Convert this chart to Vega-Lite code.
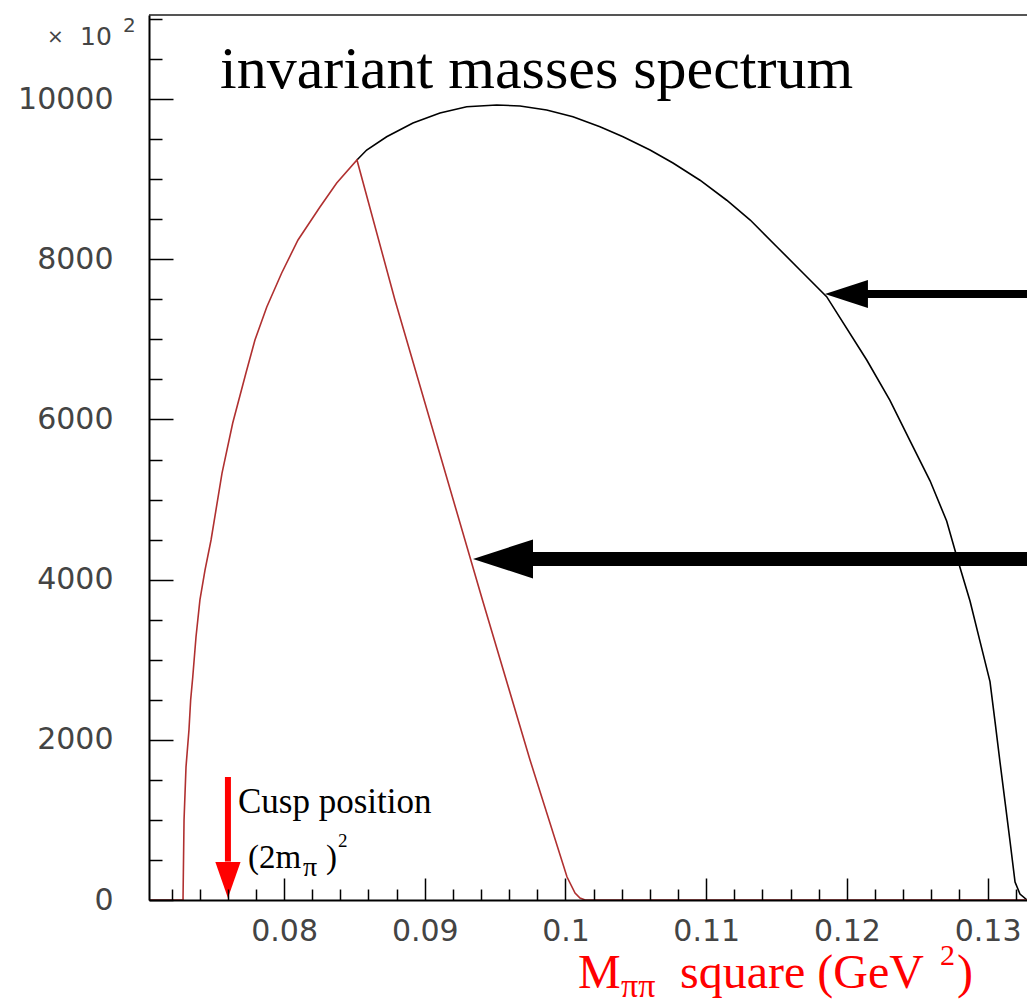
{
  "$schema": "https://vega.github.io/schema/vega-lite/v6.json",
  "width": 878,
  "height": 885,
  "autosize": {"type": "none"},
  "padding": {"left": 149, "top": 15, "right": 0, "bottom": 108},
  "background": "white",
  "config": {"view": {"stroke": null}, "axis": {"grid": false}},
  "datasets": {
    "black": [
      {"m2": 0.08518, "n": 9240}, {"m2": 0.08587, "n": 9364}, {"m2": 0.08729, "n": 9530},
      {"m2": 0.08916, "n": 9701}, {"m2": 0.09108, "n": 9827}, {"m2": 0.09298, "n": 9905},
      {"m2": 0.09511, "n": 9926}, {"m2": 0.09677, "n": 9914}, {"m2": 0.09866, "n": 9864},
      {"m2": 0.10053, "n": 9780}, {"m2": 0.10245, "n": 9655}, {"m2": 0.10409, "n": 9530},
      {"m2": 0.10601, "n": 9364}, {"m2": 0.10764, "n": 9202}, {"m2": 0.10956, "n": 8987},
      {"m2": 0.11146, "n": 8737}, {"m2": 0.11313, "n": 8490}, {"m2": 0.11502, "n": 8157},
      {"m2": 0.11688, "n": 7829}, {"m2": 0.11856, "n": 7533}, {"m2": 0.12141, "n": 6742},
      {"m2": 0.12306, "n": 6237}, {"m2": 0.12448, "n": 5736}, {"m2": 0.12591, "n": 5234},
      {"m2": 0.12709, "n": 4732}, {"m2": 0.1279, "n": 4233}, {"m2": 0.12875, "n": 3733},
      {"m2": 0.12946, "n": 3229}, {"m2": 0.13017, "n": 2727}, {"m2": 0.13053, "n": 2225},
      {"m2": 0.13088, "n": 1723}, {"m2": 0.13124, "n": 1224}, {"m2": 0.1316, "n": 724},
      {"m2": 0.13195, "n": 225}, {"m2": 0.1323, "n": 75}, {"m2": 0.1328, "n": 0}
    ],
    "red": [
      {"m2": 0.0704, "n": 0}, {"m2": 0.07282, "n": 0}, {"m2": 0.07282, "n": 37},
      {"m2": 0.07289, "n": 999}, {"m2": 0.07303, "n": 1661}, {"m2": 0.07324, "n": 2123},
      {"m2": 0.07336, "n": 2497}, {"m2": 0.07351, "n": 2784}, {"m2": 0.07374, "n": 3284},
      {"m2": 0.07402, "n": 3746}, {"m2": 0.07438, "n": 4120}, {"m2": 0.07481, "n": 4495},
      {"m2": 0.07559, "n": 5331}, {"m2": 0.07635, "n": 5956}, {"m2": 0.07729, "n": 6580},
      {"m2": 0.07793, "n": 6992}, {"m2": 0.07877, "n": 7404}, {"m2": 0.07983, "n": 7829},
      {"m2": 0.08099, "n": 8241}, {"m2": 0.08255, "n": 8653}, {"m2": 0.08374, "n": 8953},
      {"m2": 0.08518, "n": 9240}, {"m2": 0.08788, "n": 7491}, {"m2": 0.0941, "n": 3746},
      {"m2": 0.09748, "n": 1748}, {"m2": 0.10011, "n": 287}, {"m2": 0.10068, "n": 87},
      {"m2": 0.10103, "n": 25}, {"m2": 0.1014, "n": 0}, {"m2": 0.1328, "n": 0}
    ]
  },
  "resolve": {"axis": {"x": "independent", "y": "independent"}},
  "layer": [
    {
      "data": {"name": "black"},
      "mark": {"type": "line", "color": "#000000", "strokeWidth": 1.6},
      "encoding": {
        "x": {
          "field": "m2", "type": "quantitative",
          "scale": {"domain": [0.0704, 0.1328], "nice": false, "zero": false},
          "axis": {
            "orient": "bottom", "values": [0.08, 0.09, 0.1, 0.11, 0.12, 0.13],
            "format": "~g", "title": null, "tickSize": -22, "tickWidth": 1.5, "tickColor": "#000000",
            "domainColor": "#000000", "domainWidth": 2, "labelFont": "DejaVu Sans", "labelFontSize": 30,
            "labelColor": "#444444", "labelPadding": 38, "labelFlush": false, "labelOverlap": false, "zindex": 1
          }
        },
        "y": {
          "field": "n", "type": "quantitative",
          "scale": {"domain": [0, 11050], "nice": false, "zero": true},
          "axis": {
            "orient": "left", "values": [0, 2000, 4000, 6000, 8000, 10000],
            "format": "d", "title": null, "tickSize": -24, "tickWidth": 1.5, "tickColor": "#000000",
            "domainColor": "#000000", "domainWidth": 2, "labelFont": "DejaVu Sans", "labelFontSize": 30,
            "labelColor": "#444444", "labelPadding": 60, "labelFlush": false, "labelOverlap": false, "zindex": 1
          }
        },
        "order": {"value": null}
      }
    },
    {
      "data": {"name": "red"},
      "mark": {"type": "line", "color": "#b03030", "strokeWidth": 1.6},
      "encoding": {
        "x": {
          "field": "m2", "type": "quantitative",
          "axis": {
            "orient": "bottom",
            "values": [0.072, 0.074, 0.076, 0.078, 0.082, 0.084, 0.086, 0.088, 0.092, 0.094, 0.096, 0.098, 0.102, 0.104, 0.106, 0.108, 0.112, 0.114, 0.116, 0.118, 0.122, 0.124, 0.126, 0.128, 0.132],
            "title": null, "labels": false, "domain": false, "tickSize": -11, "tickWidth": 1.5, "tickColor": "#000000", "zindex": 1
          }
        },
        "y": {
          "field": "n", "type": "quantitative",
          "axis": {
            "orient": "left",
            "values": [500, 1000, 1500, 2500, 3000, 3500, 4500, 5000, 5500, 6500, 7000, 7500, 8500, 9000, 9500, 10500, 11000],
            "title": null, "labels": false, "domain": false, "tickSize": -13, "tickWidth": 1.5, "tickColor": "#000000", "zindex": 1
          }
        },
        "order": {"value": null}
      }
    },
    {
      "data": {"values": [{}]},
      "mark": {"type": "rule", "color": "#555555", "strokeWidth": 2},
      "encoding": {"y": {"datum": 11050, "axis": null}}
    },
    {
      "data": {"values": [{"t": "invariant masses spectrum"}]},
      "mark": {"type": "text", "font": "Liberation Serif", "fontSize": 60, "align": "left", "baseline": "alphabetic", "color": "#000000"},
      "encoding": {"x": {"datum": 0.075446, "axis": null}, "y": {"datum": 10138, "axis": null}, "text": {"field": "t"}}
    },
    {
      "data": {"values": [{"t": "×"}]},
      "mark": {"type": "text", "font": "DejaVu Sans", "fontSize": 20, "align": "left", "baseline": "alphabetic", "color": "#444444"},
      "encoding": {"x": {"datum": 0.063151, "axis": null}, "y": {"datum": 10700, "axis": null}, "text": {"field": "t"}}
    },
    {
      "data": {"values": [{"t": "10"}]},
      "mark": {"type": "text", "font": "DejaVu Sans", "fontSize": 25, "align": "left", "baseline": "alphabetic", "color": "#444444"},
      "encoding": {"x": {"datum": 0.065496, "axis": null}, "y": {"datum": 10675, "axis": null}, "text": {"field": "t"}}
    },
    {
      "data": {"values": [{"t": "2"}]},
      "mark": {"type": "text", "font": "DejaVu Sans", "fontSize": 20, "align": "left", "baseline": "alphabetic", "color": "#444444"},
      "encoding": {"x": {"datum": 0.068552, "axis": null}, "y": {"datum": 10838, "axis": null}, "text": {"field": "t"}}
    },
    {
      "data": {"values": [{"t": "Cusp position"}]},
      "mark": {"type": "text", "font": "Liberation Serif", "fontSize": 35, "align": "left", "baseline": "alphabetic", "color": "#000000"},
      "encoding": {"x": {"datum": 0.076725, "axis": null}, "y": {"datum": 1086, "axis": null}, "text": {"field": "t"}}
    },
    {
      "data": {"values": [{"t": "(2m"}]},
      "mark": {"type": "text", "font": "Liberation Serif", "fontSize": 33, "align": "left", "baseline": "alphabetic", "color": "#000000"},
      "encoding": {"x": {"datum": 0.077436, "axis": null}, "y": {"datum": 400, "axis": null}, "text": {"field": "t"}}
    },
    {
      "data": {"values": [{"t": "π"}]},
      "mark": {"type": "text", "font": "Liberation Serif", "fontSize": 28, "align": "left", "baseline": "alphabetic", "color": "#000000"},
      "encoding": {"x": {"datum": 0.081345, "axis": null}, "y": {"datum": 300, "axis": null}, "text": {"field": "t"}}
    },
    {
      "data": {"values": [{"t": ")"}]},
      "mark": {"type": "text", "font": "Liberation Serif", "fontSize": 33, "align": "left", "baseline": "alphabetic", "color": "#000000"},
      "encoding": {"x": {"datum": 0.082980, "axis": null}, "y": {"datum": 400, "axis": null}, "text": {"field": "t"}}
    },
    {
      "data": {"values": [{"t": "2"}]},
      "mark": {"type": "text", "font": "Liberation Serif", "fontSize": 19, "align": "left", "baseline": "alphabetic", "color": "#000000"},
      "encoding": {"x": {"datum": 0.083832, "axis": null}, "y": {"datum": 662, "axis": null}, "text": {"field": "t"}}
    },
    {
      "data": {"values": [{"t": "M"}]},
      "mark": {"type": "text", "font": "Liberation Serif", "fontSize": 48, "align": "left", "baseline": "alphabetic", "color": "#ff0000"},
      "encoding": {"x": {"datum": 0.10089, "axis": null}, "y": {"datum": -1099, "axis": null}, "text": {"field": "t"}}
    },
    {
      "data": {"values": [{"t": "ππ"}]},
      "mark": {"type": "text", "font": "Liberation Serif", "fontSize": 34, "align": "left", "baseline": "alphabetic", "color": "#ff0000"},
      "encoding": {"x": {"datum": 0.10395, "axis": null}, "y": {"datum": -1211, "axis": null}, "text": {"field": "t"}}
    },
    {
      "data": {"values": [{"t": "square (GeV"}]},
      "mark": {"type": "text", "font": "Liberation Serif", "fontSize": 48, "align": "left", "baseline": "alphabetic", "color": "#ff0000"},
      "encoding": {"x": {"datum": 0.10814, "axis": null}, "y": {"datum": -1099, "axis": null}, "text": {"field": "t"}}
    },
    {
      "data": {"values": [{"t": "2"}]},
      "mark": {"type": "text", "font": "Liberation Serif", "fontSize": 30, "align": "left", "baseline": "alphabetic", "color": "#ff0000"},
      "encoding": {"x": {"datum": 0.12662, "axis": null}, "y": {"datum": -812, "axis": null}, "text": {"field": "t"}}
    },
    {
      "data": {"values": [{"t": ")"}]},
      "mark": {"type": "text", "font": "Liberation Serif", "fontSize": 48, "align": "left", "baseline": "alphabetic", "color": "#ff0000"},
      "encoding": {"x": {"datum": 0.12782, "axis": null}, "y": {"datum": -1099, "axis": null}, "text": {"field": "t"}}
    },
    {
      "data": {"values": [{}]},
      "mark": {"type": "rule", "color": "#ff0000", "strokeWidth": 6},
      "encoding": {"x": {"datum": 0.07601, "axis": null}, "y": {"datum": 480, "axis": null}, "y2": {"datum": 1536}}
    },
    {
      "data": {"values": [{}]},
      "mark": {"type": "point", "shape": "M0,0 L-0.35,-1 L0.35,-1 Z", "size": 5184, "filled": true, "opacity": 1, "color": "#ff0000", "strokeWidth": 0},
      "encoding": {"x": {"datum": 0.07601, "axis": null}, "y": {"datum": 25, "axis": null}}
    },
    {
      "data": {"values": [{}]},
      "mark": {"type": "rule", "color": "#000000", "strokeWidth": 8},
      "encoding": {"x": {"datum": 0.1213, "axis": null}, "x2": {"datum": 0.1328}, "y": {"datum": 7566, "axis": null}}
    },
    {
      "data": {"values": [{}]},
      "mark": {"type": "point", "shape": "M0,0 L1,-0.326 L1,0.326 Z", "size": 7396, "filled": true, "opacity": 1, "color": "#000000", "strokeWidth": 0},
      "encoding": {"x": {"datum": 0.11844, "axis": null}, "y": {"datum": 7566, "axis": null}}
    },
    {
      "data": {"values": [{}]},
      "mark": {"type": "rule", "color": "#000000", "strokeWidth": 14},
      "encoding": {"x": {"datum": 0.0975, "axis": null}, "x2": {"datum": 0.1328}, "y": {"datum": 4258, "axis": null}}
    },
    {
      "data": {"values": [{}]},
      "mark": {"type": "point", "shape": "M0,0 L1,-0.325 L1,0.325 Z", "size": 14400, "filled": true, "opacity": 1, "color": "#000000", "strokeWidth": 0},
      "encoding": {"x": {"datum": 0.093427, "axis": null}, "y": {"datum": 4258, "axis": null}}
    }
  ]
}
